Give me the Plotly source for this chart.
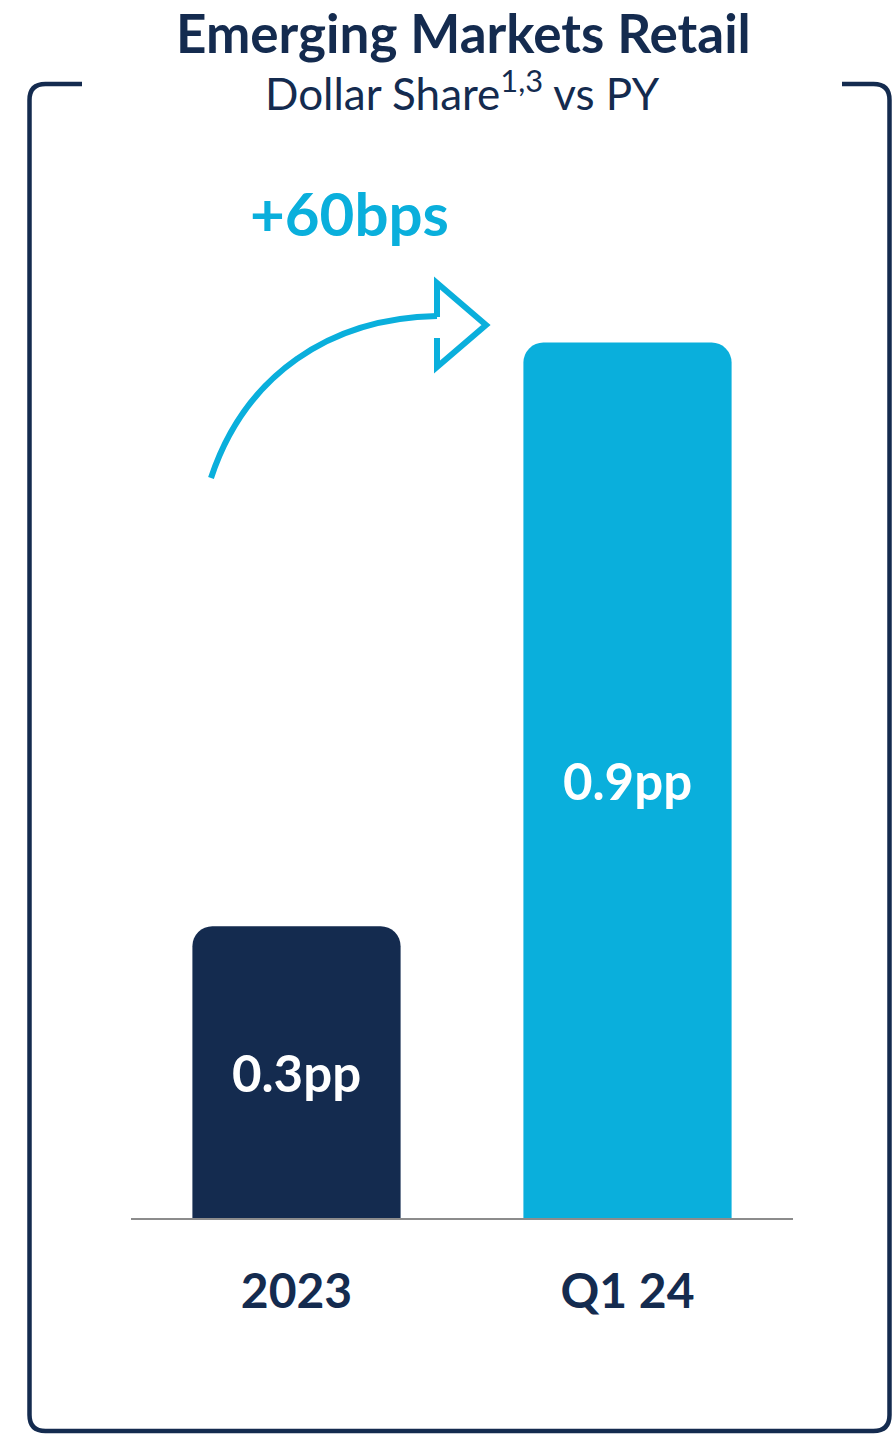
import plotly.graph_objects as go

# ---- data ----
categories = ["2023", "Q1 24"]
values = [0.3, 0.9]
value_labels = ["0.3pp", "0.9pp"]
bar_colors = ["#142B4F", "#0AAFDC"]
title_text = "Emerging Markets Retail"
subtitle_text = "Dollar Share<sup>1,3</sup> vs PY"
change_text = "+60bps"

NAVY = "#142B4F"
CYAN = "#0AAFDC"
FONT = "Lato"

W, H = 895, 1435
ML, MR, MT, MB = 131, 102, 148, 217
PW, PH = W - ML - MR, H - MT - MB


def px(x, y):
    """pixel -> paper coordinate string"""
    return f"{(x - ML) / PW:.5f},{(H - MB - y) / PH:.5f}"


fig = go.Figure()
fig.add_trace(go.Bar(
    x=categories, y=values, width=0.629,
    marker=dict(color=bar_colors, cornerradius=20, line=dict(width=0)),
    text=value_labels, textposition="inside", insidetextanchor="middle",
    textangle=0,
    textfont=dict(family=FONT, size=51, color="white", weight=700),
    hoverinfo="skip",
))

# frame with gap at top
L, R, T, B, r = 29.5, 889.5, 84, 1431, 16
frame = (f"M {px(82, T)} L {px(L + r, T)} Q {px(L, T)} {px(L, T + r)} "
         f"L {px(L, B - r)} Q {px(L, B)} {px(L + r, B)} "
         f"L {px(R - r, B)} Q {px(R, B)} {px(R, B - r)} "
         f"L {px(R, T + r)} Q {px(R, T)} {px(R - r, T)} L {px(842, T)}")
shapes = [dict(type="path", xref="paper", yref="paper", path=frame,
               line=dict(color=NAVY, width=4.5), layer="above")]

# curved arrow
curve = f"M {px(211, 478)} C {px(245, 375)} {px(330, 318)} {px(437, 316)}"
head = (f"M {px(437, 317)} L {px(437, 283)} L {px(486, 325)} "
        f"L {px(437, 367)} L {px(437, 338)}")
for p in (curve, head):
    shapes.append(dict(type="path", xref="paper", yref="paper", path=p,
                       line=dict(color=CYAN, width=6)))

annotations = [
    dict(text=title_text, xref="paper", yref="paper",
         x=(463 - ML) / PW, y=(H - MB - 32) / PH, xanchor="center", yanchor="middle",
         showarrow=False, font=dict(family=FONT, size=53, color=NAVY, weight=700)),
    dict(text=subtitle_text, xref="paper", yref="paper",
         x=(462 - ML) / PW, y=(H - MB - 90) / PH, xanchor="center", yanchor="middle",
         showarrow=False, font=dict(family=FONT, size=44, color=NAVY)),
    dict(text=change_text, xref="paper", yref="paper",
         x=(349 - ML) / PW, y=(H - MB - 213) / PH, xanchor="center", yanchor="middle",
         showarrow=False, font=dict(family=FONT, size=60, color=CYAN, weight=700)),
]

fig.update_layout(
    width=W, height=H,
    margin=dict(l=ML, r=MR, t=MT, b=MB),
    paper_bgcolor="white", plot_bgcolor="white",
    showlegend=False,
    shapes=shapes, annotations=annotations,
    xaxis=dict(range=[-0.5, 1.5], showline=True, linecolor="#8C8C8C", linewidth=2,
               showgrid=False, zeroline=False, ticks="", ticklabelstandoff=30,
               tickfont=dict(family=FONT, size=48, color=NAVY, weight=700)),
    yaxis=dict(range=[0, 1.1], visible=False, showgrid=False, zeroline=False),
)

fig.write_html("out.html")
